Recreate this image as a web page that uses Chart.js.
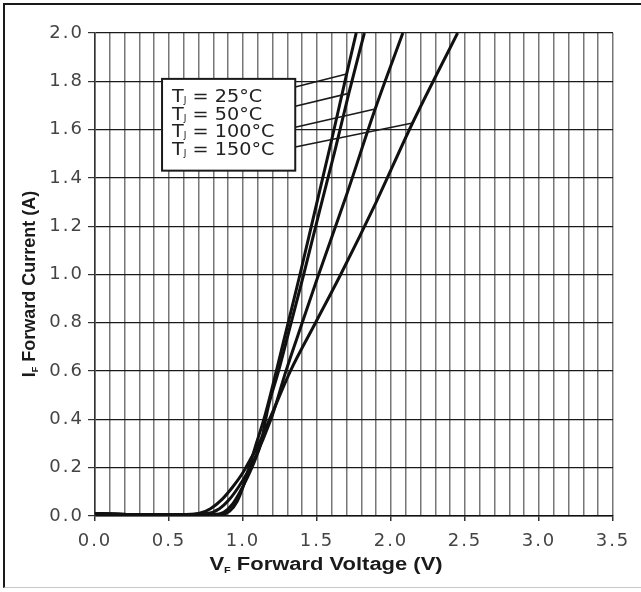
<!DOCTYPE html>
<html>
<head>
<meta charset="utf-8">
<script src="https://cdn.jsdelivr.net/npm/chart.js@4/dist/chart.umd.min.js"></script>
<style>
    body { margin: 0; background: #fff; }
    #wrap { position: relative; width: 641px; height: 592px; }
    #frame {
        position: absolute; left: 3px; top: 3px; width: 638px; height: 582px;
        border-top: 2px solid #1a1a1a; border-left: 2px solid #1a1a1a; border-bottom: 1px solid #c8c8c8;
        pointer-events: none;
    }
</style>
</head>
<body>
<div id="wrap">
    <canvas id="ivChart"></canvas>
    <div id="frame"></div>
</div>
<script>
// forward voltage (V) / forward current (A)
const vf25 = [0, 0.3, 0.6, 0.85, 0.91, 0.96, 1.0, 1.04, 1.09, 1.15, 1.225, 1.305, 1.385, 1.5, 1.6, 1.7, 1.765];
const if25 = [0.01, 0.005, 0.006, 0.006, 0.02, 0.06, 0.12, 0.2, 0.3, 0.42, 0.6, 0.8, 1.0, 1.3, 1.56, 1.83, 2.0];

const vf50 = [0, 0.3, 0.6, 0.8, 0.87, 0.93, 0.98, 1.03, 1.08, 1.12, 1.17, 1.24, 1.325, 1.41, 1.52, 1.62, 1.715, 1.82];
const if50 = [0.01, 0.005, 0.006, 0.006, 0.015, 0.05, 0.1, 0.16, 0.23, 0.3, 0.45, 0.6, 0.8, 1.0, 1.27, 1.51, 1.75, 2.0];

const vf100 = [0, 0.3, 0.6, 0.76, 0.84, 0.91, 0.97, 1.03, 1.08, 1.13, 1.2, 1.29, 1.4, 1.5, 1.7, 1.89, 2.08];
const if100 = [0.01, 0.005, 0.006, 0.01, 0.03, 0.07, 0.12, 0.18, 0.24, 0.31, 0.42, 0.6, 0.8, 0.98, 1.33, 1.68, 2.0];

const vf150 = [0, 0.3, 0.6, 0.7, 0.78, 0.86, 0.93, 1.0, 1.05, 1.1, 1.2, 1.32, 1.49, 1.66, 1.9, 2.14, 2.45];
const if150 = [0.01, 0.005, 0.006, 0.01, 0.03, 0.07, 0.12, 0.18, 0.235, 0.29, 0.43, 0.6, 0.8, 1.0, 1.3, 1.62, 2.0];

const tempLabels = ["25°C", "50°C", "100°C", "150°C"];
// where each callout line leaves the box and the current where it meets its curve
const leaderStart = [1.776, 1.697, 1.61, 1.528];
const leaderEnd = [1.83, 1.75, 1.685, 1.627];

const xTitle = "Forward Voltage (V)";
const yTitle = "Forward Current (A)";

const curves = [[vf25, if25], [vf50, if50], [vf100, if100], [vf150, if150]];

function toPoints(vs, is) {
    return vs.map((v, k) => ({x: v, y: is[k]}));
}

function voltageAt(vs, is, i) {
    for (let k = 1; k < is.length; k++) {
        if (is[k] >= i) {
            let t = (i - is[k - 1]) / (is[k] - is[k - 1]);
            return vs[k - 1] + t * (vs[k] - vs[k - 1]);
        }
    }
    return vs[vs.length - 1];
}

// text with a subscript after the first letter, e.g. T_J, V_F
function drawSub(ctx, main, sub, rest, big, small, subDrop) {
    ctx.font = big;
    let w1 = ctx.measureText(main).width;
    let w3 = ctx.measureText(rest).width;
    ctx.font = small;
    let w2 = ctx.measureText(sub).width;
    return function (x, y) {
        ctx.font = big;
        ctx.fillText(main, x, y);
        ctx.font = small;
        ctx.fillText(sub, x + w1, y + subDrop);
        ctx.font = big;
        ctx.fillText(rest, x + w1 + w2, y);
    };
}

function subWidth(ctx, main, sub, rest, big, small) {
    ctx.font = big;
    let w = ctx.measureText(main + rest).width;
    ctx.font = small;
    return w + ctx.measureText(sub).width;
}

const calloutPlugin = {
    id: "callout",
    beforeDraw(chart) {
        // the scanned datasheet is a little stretched sideways
        chart.ctx.letterSpacing = "2px";
    },
    afterDatasetsDraw(chart) {
        const ctx = chart.ctx;
        const xs = chart.scales.x, ys = chart.scales.y;
        const bx0 = xs.getPixelForValue(0.453), bx1 = xs.getPixelForValue(1.353);
        const by0 = ys.getPixelForValue(1.81), by1 = ys.getPixelForValue(1.43);
        ctx.save();
        ctx.letterSpacing = "0px";
        // leader lines
        ctx.strokeStyle = "#1a1a1a";
        ctx.lineWidth = 1.6;
        curves.forEach((c, k) => {
            let v = voltageAt(c[0], c[1], leaderEnd[k]);
            ctx.beginPath();
            ctx.moveTo(bx1, ys.getPixelForValue(leaderStart[k]));
            ctx.lineTo(xs.getPixelForValue(v), ys.getPixelForValue(leaderEnd[k]));
            ctx.stroke();
        });
        // box
        ctx.fillStyle = "#fff";
        ctx.fillRect(bx0, by0, bx1 - bx0, by1 - by0);
        ctx.lineWidth = 2;
        ctx.strokeRect(bx0, by0, bx1 - bx0, by1 - by0);
        ctx.fillStyle = "#222";
        ctx.textBaseline = "alphabetic";
        ctx.textAlign = "left";
        tempLabels.forEach((t, k) => {
            ctx.save();
            ctx.translate(bx0 + 10, by0 + 23 + k * 17.7);
            ctx.scale(1.13, 1);
            drawSub(ctx, "T", "J", " = " + t, "17px 'DejaVu Sans'", "8px 'DejaVu Sans'", 1)(0, 0);
            ctx.restore();
        });
        ctx.restore();
    },
    afterDraw(chart) {
        const ctx = chart.ctx;
        ctx.save();
        ctx.letterSpacing = "0px";
        ctx.fillStyle = "#1a1a1a";
        ctx.textBaseline = "alphabetic";
        ctx.textAlign = "left";
        const big = "bold 18px 'Liberation Sans'";
        const small = "bold 9px 'Liberation Sans'";

        // x title
        ctx.save();
        ctx.translate(326, 570);
        ctx.scale(1.22, 1);
        let w = subWidth(ctx, "V", "F", " " + xTitle, big, small);
        drawSub(ctx, "V", "F", " " + xTitle, big, small, 3)(-w / 2, 0);
        ctx.restore();

        // y title
        ctx.translate(35, 284);
        ctx.rotate(-Math.PI / 2);
        w = subWidth(ctx, "I", "F", " " + yTitle, big, small);
        drawSub(ctx, "I", "F", " " + yTitle, big, small, 3)(-w / 2, 0);
        ctx.restore();
    }
};

const isMajor = (v) => Math.abs(v * 2 - Math.round(v * 2)) < 1e-6;

new Chart("ivChart", {
    type: "line",
    data: {
        datasets: curves.map((c, k) => ({
            label: tempLabels[k],
            data: toPoints(c[0], c[1]),
            borderColor: "#111",
            borderWidth: 3,
            pointRadius: 0,
            cubicInterpolationMode: "monotone",
            fill: false
        }))
    },
    options: {
        responsive: true,
        maintainAspectRatio: false,
        animation: false,
        layout: {padding: {left: 0, top: 33, right: 28, bottom: 0}},
        plugins: {legend: {display: false}, tooltip: {enabled: false}},
        scales: {
            x: {
                type: "linear",
                min: 0,
                max: 3.5,
                afterFit: (s) => { s.height = 76; },
                ticks: {
                    stepSize: 0.1,
                    autoSkip: false,
                    maxRotation: 0,
                    padding: 10,
                    color: "#444",
                    font: {family: "'DejaVu Sans'", size: 18},
                    callback: (v) => isMajor(v) ? v.toFixed(1) : ""
                },
                grid: {
                    color: "#777",
                    lineWidth: 1.5,
                    tickLength: 5,
                    tickColor: (c) => c.tick && isMajor(c.tick.value) ? "#333" : "rgba(0,0,0,0)"
                },
                border: {color: "#111", width: 1.5}
            },
            y: {
                type: "linear",
                min: 0,
                max: 2,
                afterFit: (s) => { s.width = 95; },
                ticks: {
                    stepSize: 0.2,
                    padding: 4,
                    color: "#444",
                    font: {family: "'DejaVu Sans'", size: 18},
                    callback: (v) => v.toFixed(1)
                },
                grid: {
                    color: "#1a1a1a",
                    lineWidth: 1.2,
                    tickLength: 7,
                    tickColor: "#333"
                },
                border: {color: "#333", width: 1.5}
            }
        }
    },
    plugins: [calloutPlugin]
});
</script>
</body>
</html>
